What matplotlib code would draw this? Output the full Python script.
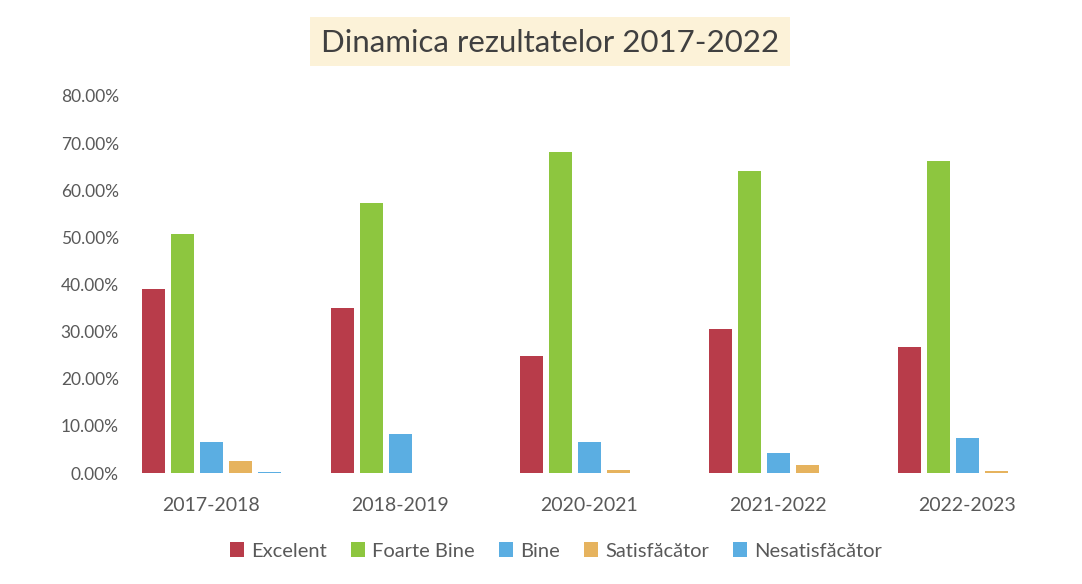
import matplotlib
matplotlib.use("Agg")
import matplotlib.pyplot as plt
from matplotlib.ticker import FuncFormatter, MultipleLocator
from matplotlib.patches import Rectangle
import numpy as np

categories = ["2017-2018", "2018-2019", "2020-2021", "2021-2022", "2022-2023"]
series_names = ["Excelent", "Foarte Bine", "Bine", "Satisfăcător", "Nesatisfăcător"]
excelent = [0.390, 0.350, 0.248, 0.305, 0.267]
foarte_bine = [0.508, 0.572, 0.682, 0.640, 0.663]
bine = [0.066, 0.083, 0.066, 0.042, 0.074]
satisfacator = [0.025, 0.0, 0.006, 0.017, 0.005]
nesatisfacator = [0.003, 0.0, 0.0, 0.0, 0.0]
colors = ["#B83C4A", "#8DC63F", "#5BAEE2", "#E6B35E", "#5BAEE2"]

series = [excelent, foarte_bine, bine, satisfacator, nesatisfacator]

plt.rcParams['font.family'] = ['Lato', 'DejaVu Sans']
W, H = 1082, 584
fig = plt.figure(figsize=(W / 100, H / 100), dpi=100)
fig.patch.set_facecolor("white")

ax_left_px, ax_right_px = 130, 1062
ax_top_px, ax_bot_px = 96, 473
ax = fig.add_axes([ax_left_px / W, 1 - ax_bot_px / H,
                   (ax_right_px - ax_left_px) / W, (ax_bot_px - ax_top_px) / H])

x = np.arange(len(categories))
step = 29 / 189
width = 23 / 189
for i, (name, vals, c) in enumerate(zip(series_names, series, colors)):
    ax.bar(x + (i - 2) * step, vals, width=width, color=c, label=name, zorder=2)

ax.set_ylim(0, 0.8)
ax.set_xlim(-0.5 + (ax_left_px - 116.5) / 189, 4.5 + (ax_right_px - 1061.5) / 189)
ax.yaxis.set_major_locator(MultipleLocator(0.1))
ax.yaxis.set_major_formatter(FuncFormatter(lambda v, p: f"{v*100:.2f}%"))
ax.set_xticks(x)
ax.set_xticklabels(categories)
for s in ax.spines.values():
    s.set_visible(False)
ax.tick_params(axis='both', length=0, colors="#595959")
ax.tick_params(axis='y', pad=8, labelsize=12.5)
ax.tick_params(axis='x', pad=17, labelsize=14)

# title background box
fig.patches.append(Rectangle((310 / W, 1 - 66 / H), 480 / W, 49 / H,
                             transform=fig.transFigure, facecolor="#FCF2D8",
                             edgecolor="none", zorder=0))
fig.text(550 / W, 1 - 43 / H, "Dinamica rezultatelor 2017-2022", ha="center", va="center",
         fontsize=22.5, color="#404040")

handles, labels = ax.get_legend_handles_labels()
fig.legend(handles, labels, loc="center", bbox_to_anchor=(556 / W, 1 - 551 / H), ncol=5,
           frameon=False, handlelength=0.7, handleheight=0.7, handletextpad=0.35,
           columnspacing=1.2, fontsize=14.5, labelcolor="#595959")

fig.savefig("out.png", dpi=100)
